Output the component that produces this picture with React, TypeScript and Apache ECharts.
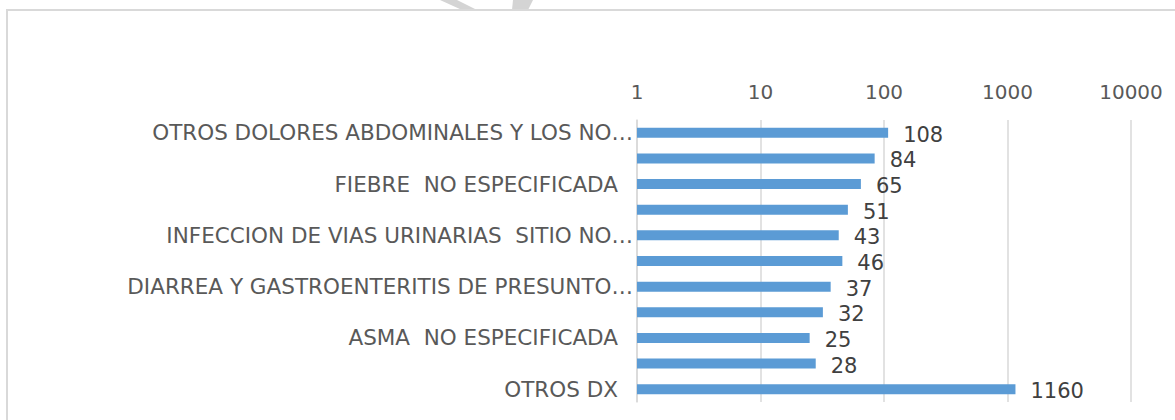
import React, { useEffect, useRef } from "react";
import * as echarts from "echarts";

const categories: string[] = [
  "OTROS DOLORES ABDOMINALES Y LOS NO…",
  "RINOFARINGITIS AGUDA (RESFRIADO COMUN)",
  "FIEBRE  NO ESPECIFICADA",
  "CEFALEA",
  "INFECCION DE VIAS URINARIAS  SITIO NO…",
  "DOLOR EN EL PECHO  NO ESPECIFICADO",
  "DIARREA Y GASTROENTERITIS DE PRESUNTO…",
  "LUMBAGO NO ESPECIFICADO",
  "ASMA  NO ESPECIFICADA",
  "VERTIGO DE ORIGEN CENTRAL",
  "OTROS DX",
];
const values: number[] = [108, 84, 65, 51, 43, 46, 37, 32, 25, 28, 1160];
const axisMin = 1;
const axisMax = 10000;

const FONT = "DejaVu Sans";

export default function App() {
  const ref = useRef<HTMLDivElement>(null);
  useEffect(() => {
    if (!ref.current) return;
    const chart = echarts.init(ref.current, undefined, { renderer: "svg" });
    const labelStyle = { fontSize: 21.5, color: "#595959", fontFamily: FONT };
    chart.setOption({
      animation: false,
      backgroundColor: "#ffffff",
      grid: { left: 637, top: 120, width: 494, height: 282, containLabel: false },
      graphic: [
        {
          type: "polygon",
          silent: true,
          shape: { points: [[440, 0], [457, 0], [477, 10], [462, 10]] },
          style: { fill: "#d4d4d4" },
        },
        {
          type: "polygon",
          silent: true,
          shape: { points: [[513, 0], [533, 0], [528, 10], [512, 10]] },
          style: { fill: "#d4d4d4" },
        },
        {
          type: "rect",
          silent: true,
          shape: { x: 7, y: 10, width: 1200, height: 430 },
          style: { fill: "none", stroke: "#d9d9d9", lineWidth: 2 },
        },
      ],
      xAxis: {
        type: "log",
        logBase: 10,
        min: axisMin,
        max: axisMax,
        position: "top",
        axisLine: { show: false },
        axisTick: { show: false },
        splitLine: { show: true, lineStyle: { color: "#d9d9d9", width: 1.5 } },
        axisLabel: {
          margin: 18,
          fontSize: 20,
          color: "#595959",
          fontFamily: FONT,
          formatter: (v: number) => String(Math.round(v)),
        },
      },
      yAxis: {
        type: "category",
        data: categories,
        inverse: true,
        axisTick: { show: false },
        axisLine: { show: true, lineStyle: { color: "#d9d9d9", width: 1.5 } },
        axisLabel: {
          interval: 1,
          margin: 4,
          ...labelStyle,
          formatter: (v: string) => (v.endsWith("…") ? `{t|${v}}` : `{p|${v}}`),
          rich: {
            t: { ...labelStyle },
            p: { ...labelStyle, padding: [0, 15, 0, 0] },
          },
        },
      },
      series: [
        {
          type: "bar",
          data: values,
          barWidth: 10,
          itemStyle: { color: "#5B9BD5" },
          label: {
            show: true,
            position: "right",
            distance: 15,
            offset: [0, 2],
            fontSize: 21,
            color: "#404040",
            fontFamily: FONT,
          },
        },
      ],
    });
    return () => chart.dispose();
  }, []);
  return (
    <div
      ref={ref}
      style={{ position: "absolute", left: 0, top: 0, width: 1175, height: 420 }}
    />
  );
}
